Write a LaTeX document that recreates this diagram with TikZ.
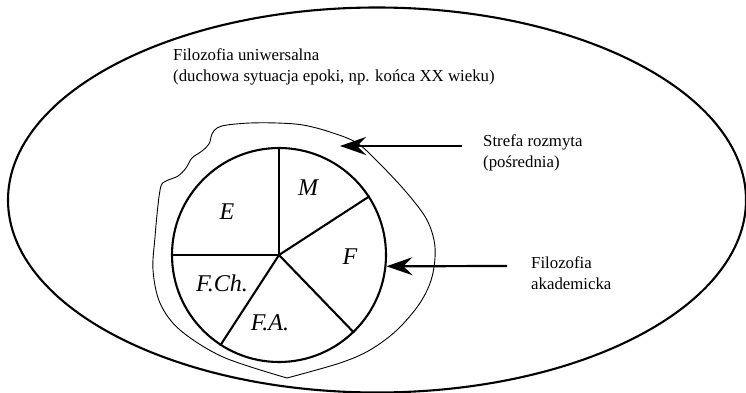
\documentclass[tikz,border=0pt]{standalone}
\usepackage{fontspec}
\setmainfont{Liberation Serif}
\usetikzlibrary{shapes.geometric,arrows.meta}

\begin{document}
\begin{tikzpicture}[x=1pt,y=-1pt]
        \tikzstyle{opis}=[anchor=west,align=left,inner sep=0pt,font=\fontsize{16.8}{21.5}\selectfont]
        \tikzstyle{sektor}=[font=\fontsize{24}{24}\selectfont\itshape]
        \tikzstyle{gruba}=[line width=2.1pt]
        \tikzstyle{strzalka}=[line width=2.2pt,-{Stealth[length=26pt,width=18pt,inset=9pt]}]
        \useasboundingbox (0,0) rectangle (746,393);
        \node[draw,gruba,ellipse,minimum width=738pt,minimum height=385pt] (calosc) at (377,200) {};
        \node[opis] (uniw) at (173,67) {Filozofia uniwersalna\\(duchowa sytuacja epoki, np. końca XX wieku)};
        % strefa posrednia
        \draw[line width=0.9pt] plot[smooth,tension=0.55] coordinates {(287,378) (223,357) (180,330) (160,303)
          (153,270) (155,237) (158,205) (161,186) (166,181) (178,176) (186,168) (192,158) (202,151) (209,144)
          (212,134) (217,128) (227,125) (250,123) (277,123) (303,125) (330,132) (357,143) (380,164) (407,193)
          (427,220) (435,247) (432,277) (420,303) (397,330) (370,350) (340,363) (287,378)};
        \node[draw,gruba,circle,minimum size=214pt,inner sep=0pt] (kolo) at (279,255) {};
        \foreach \kat in {90,180,33,-46,237}
          \draw[gruba] (kolo.center) -- (kolo.\kat);
        \node[sektor] (e) at (227,212) {E};
        \node[sektor] (m) at (308,188) {M};
        \node[sektor] (f) at (350,257) {F};
        \node[sektor] (fch) at (222,283) {F.Ch.};
        \node[sektor] (fa) at (270,323) {F.A.};
        \node[opis] (strefa) at (483,153) {Strefa rozmyta\\(pośrednia)};
        \node[opis] (akad) at (531,273) {Filozofia\\akademicka};
        \coordinate (s1) at (462,146);
        \coordinate (s2) at (340,146);
        \coordinate (a1) at (507,266);
        \draw[strzalka] (s1) -- (s2);
        \draw[strzalka] (a1) -- (kolo.-6);
\end{tikzpicture}
\end{document}
